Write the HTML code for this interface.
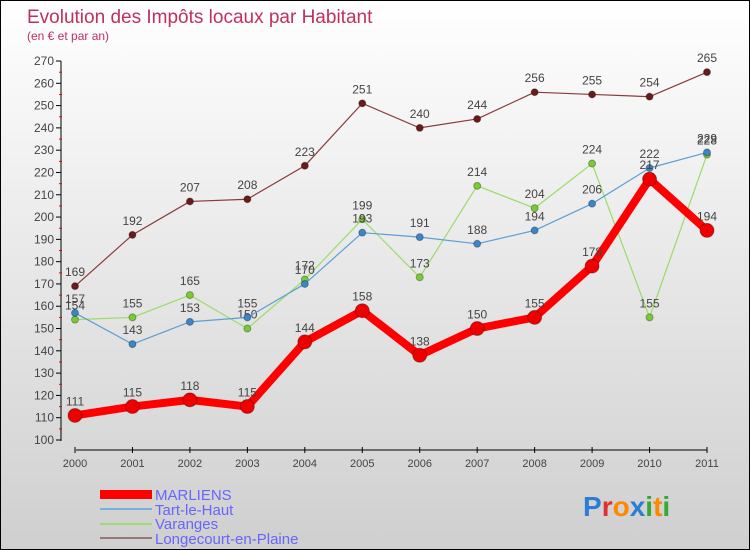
<!DOCTYPE html>
<html><head><meta charset="utf-8"><style>
body{margin:0}
#c{width:748px;height:548px;border:1px solid #000;background:linear-gradient(#ffffff,#cfcfcf);position:relative;overflow:hidden;font-family:"Liberation Sans",sans-serif}
svg text{font-family:"Liberation Sans",sans-serif}
</style></head><body>
<div id="c">
<svg id="s" width="748" height="548">
<text x="26" y="22" font-size="19" fill="#c0305a">Evolution des Impôts locaux par Habitant</text>
<text x="26" y="39" font-size="12" fill="#c0305a">(en € et par an)</text>
<g id="legend">
<rect x="99" y="489" width="52" height="9" fill="#ff0000"/>
<text x="154" y="499" font-size="15" fill="#6666ff">MARLIENS</text>
<line x1="99" y1="508" x2="151" y2="508" stroke="#7aaedb" stroke-width="2"/>
<text x="154" y="514" font-size="15" fill="#6666ff">Tart-le-Haut</text>
<line x1="99" y1="523" x2="151" y2="523" stroke="#99dd77" stroke-width="2"/>
<text x="154" y="528" font-size="15" fill="#6666ff">Varanges</text>
<line x1="99" y1="537" x2="151" y2="537" stroke="#997777" stroke-width="2"/>
<text x="154" y="543" font-size="15" fill="#6666ff">Longecourt-en-Plaine</text>
</g>
<g font-size="28" font-weight="bold">
<text x="582" y="515"><tspan fill="#2a7fd4">P</tspan><tspan fill="#e03030">r</tspan><tspan fill="#ff8800">o</tspan><tspan fill="#2a7fd4">x</tspan><tspan fill="#33aa33">i</tspan><tspan fill="#ff8800">t</tspan><tspan fill="#33aa33">i</tspan></text>
</g>
</svg>
</div>
<script>
const years=["2000","2001","2002","2003","2004","2005","2006","2007","2008","2009","2010","2011"];
const yTicks=[100,110,120,130,140,150,160,170,180,190,200,210,220,230,240,250,260,270];
const marliens=[111,115,118,115,144,158,138,150,155,178,217,194];
const tart=[157,143,153,155,170,193,191,188,194,206,222,229];
const varanges=[154,155,165,150,172,199,173,214,204,224,155,228];
const longecourt=[169,192,207,208,223,251,240,244,256,255,254,265];
const NS="http://www.w3.org/2000/svg",svg=document.getElementById('s');
const xs=i=>74+i*(706-74)/11, ys=v=>439-(v-100)*(379/170);
function mk(t,a,p){const e=document.createElementNS(NS,t);for(const k in a)e.setAttribute(k,a[k]);(p||svg).appendChild(e);return e;}
const ax=mk('g',{});


mk('line',{x1:60,y1:60,x2:60,y2:440,stroke:'#000'},ax);
mk('line',{x1:75,y1:449,x2:706,y2:449,stroke:'#000'},ax);
yTicks.forEach(v=>{const y=ys(v);mk('line',{x1:55,y1:y,x2:60,y2:y,stroke:'#000'},ax);
 if(v<270)mk('line',{x1:58,y1:y-11.1,x2:61,y2:y-11.1,stroke:'#e00'},ax);
 const t=mk('text',{x:53,y:y+4,'font-size':12,'text-anchor':'end',fill:'#444'},ax);t.textContent=v;
 
 });
years.forEach((yr,i)=>{const x=xs(i);mk('line',{x1:x,y1:446,x2:x,y2:452,stroke:'#000'},ax);
 const t=mk('text',{x:x,y:466,'font-size':11,'text-anchor':'middle',fill:'#444'},ax);t.textContent=yr;
 
 });
function series(vals,color,dot,w,r,name){const g=mk('g',{});
 
 
 mk('polyline',{points:vals.map((v,i)=>xs(i)+','+ys(v)).join(' '),fill:'none',stroke:color,'stroke-width':w,'stroke-linejoin':'round'},g);
 vals.forEach((v,i)=>{const c=mk('circle',{cx:xs(i),cy:ys(v),r:r,fill:dot,stroke:'rgba(0,0,0,0.3)'},g);
  
  
  const t=mk('text',{x:xs(i),y:ys(v)-10,'font-size':12,'text-anchor':'middle',fill:'#444'},g);t.textContent=v;
  
  });}
series(longecourt,'#8a3a3a','#6b1a1a',1.2,3.5,'longecourt');
series(varanges,'#99dd66','#77cc33',1.2,3.5,'varanges');
series(tart,'#5c9fd6','#3a86c8',1.2,3.5,'tart');
series(marliens,'#ff0000','#ee0000',8,7,'marliens');
</script>
</body></html>
